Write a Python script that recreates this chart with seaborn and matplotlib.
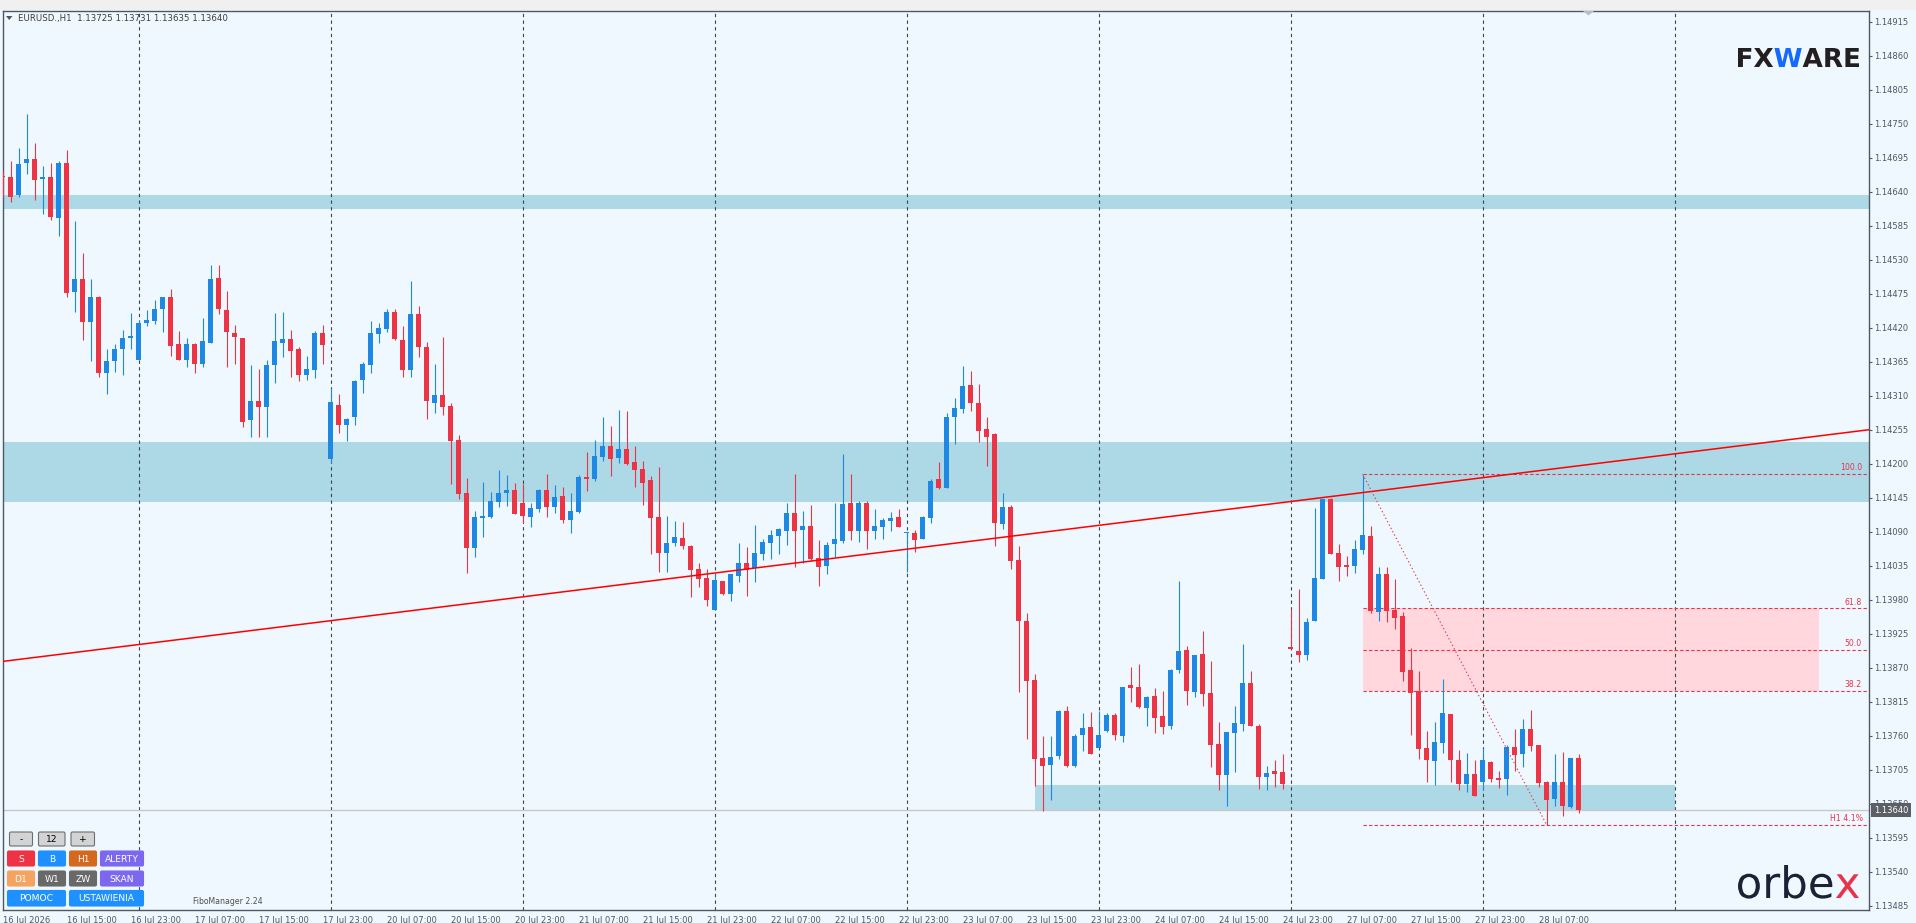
import matplotlib
matplotlib.use("Agg")
import matplotlib.pyplot as plt
import numpy as np
import pandas as pd
import seaborn as sns
from matplotlib.patches import Rectangle, FancyBboxPatch, PathPatch, Polygon
from matplotlib.transforms import Affine2D, blended_transform_factory
from matplotlib.textpath import TextPath, text_to_path
from matplotlib.font_manager import FontProperties

# EURUSD H1 candles, 16 Jul 07:00 .. 28 Jul 12:00 (one entry per bar)
opens = [
    1.14666, 1.14664, 1.14634, 1.14686, 1.14692, 1.14660, 1.14664, 1.14597, 1.14687, 1.14477,
    1.14498, 1.14429, 1.14470, 1.14347, 1.14366, 1.14385, 1.14403, 1.14368, 1.14427, 1.14430,
    1.14450, 1.14469, 1.14393, 1.14368, 1.14394, 1.14362, 1.14396, 1.14501, 1.14449, 1.14412,
    1.14404, 1.14270, 1.14302, 1.14291, 1.14359, 1.14396, 1.14401, 1.14385, 1.14343, 1.14352,
    1.14411, 1.14207, 1.14295, 1.14263, 1.14275, 1.14335, 1.14359, 1.14409, 1.14418, 1.14446,
    1.14400, 1.14352, 1.14442, 1.14389, 1.14299, 1.14311, 1.14294, 1.14239, 1.14153, 1.14064,
    1.14112, 1.14114, 1.14138, 1.14153, 1.14158, 1.14137, 1.14114, 1.14127, 1.14158, 1.14130,
    1.14148, 1.14109, 1.14122, 1.14179, 1.14176, 1.14211, 1.14229, 1.14210, 1.14224, 1.14203,
    1.14192, 1.14174, 1.14114, 1.14056, 1.14072, 1.14080, 1.14067, 1.14030, 1.14016, 1.13964,
    1.14011, 1.13990, 1.14019, 1.14040, 1.14032, 1.14054, 1.14072, 1.14083, 1.14091, 1.14121,
    1.14093, 1.14100, 1.14048, 1.14035, 1.14070, 1.14075, 1.14137, 1.14091, 1.14137, 1.14091,
    1.14098, 1.14108, 1.14114, 1.14088, 1.14088, 1.14078, 1.14112, 1.14176, 1.14161, 1.14276,
    1.14289, 1.14328, 1.14298, 1.14256, 1.14248, 1.14103, 1.14130, 1.14045, 1.13946, 1.13850,
    1.13724, 1.13713, 1.13728, 1.13800, 1.13711, 1.13762, 1.13775, 1.13741, 1.13768, 1.13794,
    1.13760, 1.13842, 1.13839, 1.13805, 1.13825, 1.13792, 1.13776, 1.13867, 1.13899, 1.13831,
    1.13893, 1.13830, 1.13747, 1.13697, 1.13765, 1.13779, 1.13846, 1.13776, 1.13694, 1.13703,
    1.13702, 1.13904, 1.13897, 1.13891, 1.13946, 1.14014, 1.14143, 1.14056, 1.14036, 1.14035,
    1.14061, 1.14083, 1.13960, 1.14022, 1.13964, 1.13954, 1.13867, 1.13833, 1.13741, 1.13720,
    1.13749, 1.13796, 1.13721, 1.13682, 1.13698, 1.13686, 1.13718, 1.13692, 1.13690, 1.13742,
    1.13731, 1.13771, 1.13745, 1.13686, 1.13658, 1.13686, 1.13645, 1.13725,
]
highs = [
    1.14674, 1.14690, 1.14711, 1.14765, 1.14719, 1.14682, 1.14687, 1.14690, 1.14708, 1.14593,
    1.14540, 1.14498, 1.14472, 1.14385, 1.14393, 1.14417, 1.14443, 1.14432, 1.14449, 1.14464,
    1.14470, 1.14482, 1.14415, 1.14404, 1.14396, 1.14436, 1.14522, 1.14522, 1.14480, 1.14425,
    1.14404, 1.14360, 1.14353, 1.14368, 1.14443, 1.14446, 1.14417, 1.14389, 1.14375, 1.14415,
    1.14425, 1.14322, 1.14313, 1.14274, 1.14336, 1.14365, 1.14430, 1.14427, 1.14451, 1.14451,
    1.14423, 1.14496, 1.14455, 1.14397, 1.14361, 1.14405, 1.14299, 1.14247, 1.14177, 1.14124,
    1.14171, 1.14155, 1.14190, 1.14182, 1.14169, 1.14167, 1.14137, 1.14159, 1.14184, 1.14166,
    1.14163, 1.14153, 1.14182, 1.14219, 1.14239, 1.14276, 1.14261, 1.14287, 1.14286, 1.14229,
    1.14205, 1.14180, 1.14195, 1.14116, 1.14108, 1.14106, 1.14069, 1.14040, 1.14030, 1.14022,
    1.14011, 1.14022, 1.14072, 1.14066, 1.14101, 1.14078, 1.14093, 1.14096, 1.14137, 1.14184,
    1.14124, 1.14133, 1.14077, 1.14074, 1.14137, 1.14216, 1.14184, 1.14140, 1.14140, 1.14127,
    1.14112, 1.14122, 1.14127, 1.14090, 1.14093, 1.14116, 1.14176, 1.14203, 1.14282, 1.14306,
    1.14358, 1.14350, 1.14329, 1.14276, 1.14250, 1.14153, 1.14133, 1.14067, 1.13959, 1.13860,
    1.13760, 1.13760, 1.13802, 1.13808, 1.13763, 1.13797, 1.13799, 1.13800, 1.13797, 1.13797,
    1.13839, 1.13871, 1.13876, 1.13825, 1.13838, 1.13833, 1.13868, 1.14011, 1.13906, 1.13891,
    1.13930, 1.13881, 1.13783, 1.13766, 1.13808, 1.13909, 1.13865, 1.13779, 1.13711, 1.13721,
    1.13731, 1.13965, 1.13998, 1.13951, 1.14129, 1.14143, 1.14145, 1.14070, 1.14051, 1.14077,
    1.14182, 1.14100, 1.14033, 1.14033, 1.14014, 1.13960, 1.13902, 1.13865, 1.13768, 1.13783,
    1.13852, 1.13796, 1.13737, 1.13732, 1.13721, 1.13741, 1.13719, 1.13703, 1.13745, 1.13771,
    1.13787, 1.13802, 1.13745, 1.13687, 1.13731, 1.13734, 1.13724, 1.13731,
]
lows = [
    1.14631, 1.14623, 1.14632, 1.14668, 1.14626, 1.14604, 1.14594, 1.14568, 1.14469, 1.14445,
    1.14400, 1.14366, 1.14341, 1.14312, 1.14349, 1.14343, 1.14385, 1.14368, 1.14422, 1.14426,
    1.14413, 1.14374, 1.14367, 1.14357, 1.14346, 1.14356, 1.14396, 1.14442, 1.14357, 1.14362,
    1.14260, 1.14244, 1.14244, 1.14244, 1.14330, 1.14372, 1.14341, 1.14333, 1.14336, 1.14338,
    1.14362, 1.14202, 1.14249, 1.14236, 1.14263, 1.14314, 1.14346, 1.14396, 1.14413, 1.14400,
    1.14340, 1.14340, 1.14373, 1.14273, 1.14282, 1.14279, 1.14167, 1.14143, 1.14024, 1.14050,
    1.14081, 1.14112, 1.14130, 1.14132, 1.14119, 1.14104, 1.14098, 1.14122, 1.14114, 1.14121,
    1.14104, 1.14088, 1.14121, 1.14156, 1.14172, 1.14205, 1.14180, 1.14201, 1.14198, 1.14163,
    1.14134, 1.14054, 1.14025, 1.14025, 1.14067, 1.14062, 1.13985, 1.14001, 1.13970, 1.13964,
    1.13988, 1.13978, 1.14009, 1.13986, 1.14009, 1.14045, 1.14046, 1.14054, 1.14069, 1.14033,
    1.14039, 1.14043, 1.14002, 1.14022, 1.14049, 1.14072, 1.14077, 1.14074, 1.14062, 1.14078,
    1.14078, 1.14091, 1.14098, 1.14025, 1.14058, 1.14078, 1.14104, 1.14159, 1.14161, 1.14232,
    1.14282, 1.14286, 1.14235, 1.14197, 1.14067, 1.14095, 1.14030, 1.13831, 1.13755, 1.13679,
    1.13639, 1.13656, 1.13723, 1.13710, 1.13710, 1.13736, 1.13731, 1.13741, 1.13766, 1.13754,
    1.13750, 1.13815, 1.13805, 1.13776, 1.13765, 1.13763, 1.13771, 1.13862, 1.13810, 1.13823,
    1.13808, 1.13710, 1.13673, 1.13647, 1.13702, 1.13768, 1.13776, 1.13674, 1.13673, 1.13677,
    1.13674, 1.13901, 1.13880, 1.13883, 1.13946, 1.14014, 1.14054, 1.14011, 1.14019, 1.14024,
    1.14054, 1.13959, 1.13946, 1.13944, 1.13933, 1.13849, 1.13762, 1.13723, 1.13686, 1.13681,
    1.13733, 1.13686, 1.13673, 1.13669, 1.13663, 1.13673, 1.13686, 1.13676, 1.13665, 1.13703,
    1.13710, 1.13736, 1.13677, 1.13616, 1.13647, 1.13631, 1.13643, 1.13635,
]
closes = [
    1.14663, 1.14632, 1.14685, 1.14693, 1.14658, 1.14664, 1.14599, 1.14687, 1.14476, 1.14498,
    1.14429, 1.14470, 1.14347, 1.14366, 1.14386, 1.14404, 1.14406, 1.14428, 1.14433, 1.14451,
    1.14469, 1.14390, 1.14368, 1.14394, 1.14361, 1.14398, 1.14499, 1.14450, 1.14413, 1.14405,
    1.14267, 1.14302, 1.14291, 1.14360, 1.14399, 1.14401, 1.14382, 1.14343, 1.14353, 1.14411,
    1.14392, 1.14300, 1.14262, 1.14272, 1.14334, 1.14361, 1.14411, 1.14420, 1.14446, 1.14401,
    1.14351, 1.14442, 1.14388, 1.14301, 1.14311, 1.14292, 1.14236, 1.14151, 1.14064, 1.14114,
    1.14116, 1.14140, 1.14153, 1.14158, 1.14119, 1.14116, 1.14129, 1.14158, 1.14130, 1.14146,
    1.14109, 1.14124, 1.14179, 1.14176, 1.14213, 1.14229, 1.14208, 1.14224, 1.14200, 1.14190,
    1.14169, 1.14112, 1.14056, 1.14072, 1.14082, 1.14067, 1.14028, 1.14014, 1.13980, 1.14012,
    1.13990, 1.14022, 1.14040, 1.14028, 1.14056, 1.14074, 1.14085, 1.14095, 1.14121, 1.14091,
    1.14100, 1.14046, 1.14033, 1.14069, 1.14078, 1.14135, 1.14091, 1.14137, 1.14091, 1.14100,
    1.14109, 1.14112, 1.14098, 1.14090, 1.14077, 1.14114, 1.14172, 1.14161, 1.14276, 1.14290,
    1.14326, 1.14298, 1.14253, 1.14243, 1.14104, 1.14130, 1.14043, 1.13946, 1.13849, 1.13723,
    1.13711, 1.13726, 1.13800, 1.13711, 1.13760, 1.13773, 1.13731, 1.13762, 1.13794, 1.13762,
    1.13839, 1.13838, 1.13807, 1.13823, 1.13789, 1.13775, 1.13867, 1.13897, 1.13833, 1.13891,
    1.13828, 1.13745, 1.13697, 1.13766, 1.13781, 1.13846, 1.13776, 1.13694, 1.13700, 1.13699,
    1.13682, 1.13901, 1.13891, 1.13944, 1.14016, 1.14143, 1.14054, 1.14033, 1.14033, 1.14062,
    1.14085, 1.13962, 1.14022, 1.13962, 1.13951, 1.13863, 1.13830, 1.13739, 1.13721, 1.13750,
    1.13797, 1.13721, 1.13682, 1.13698, 1.13663, 1.13721, 1.13690, 1.13689, 1.13742, 1.13729,
    1.13771, 1.13744, 1.13684, 1.13656, 1.13686, 1.13647, 1.13724, 1.13640,
]

x_labels = [
    "16 Jul 2026", "16 Jul 15:00", "16 Jul 23:00", "17 Jul 07:00", "17 Jul 15:00",
    "17 Jul 23:00", "20 Jul 07:00", "20 Jul 15:00", "20 Jul 23:00", "21 Jul 07:00",
    "21 Jul 15:00", "21 Jul 23:00", "22 Jul 07:00", "22 Jul 15:00", "22 Jul 23:00",
    "23 Jul 07:00", "23 Jul 15:00", "23 Jul 23:00", "24 Jul 07:00", "24 Jul 15:00",
    "24 Jul 23:00", "27 Jul 07:00", "27 Jul 15:00", "27 Jul 23:00", "28 Jul 07:00",
]
price_ticks = [
    1.14915, 1.14860, 1.14805, 1.14750, 1.14695, 1.14640, 1.14585, 1.14530, 1.14475,
    1.14420, 1.14365, 1.14310, 1.14255, 1.14200, 1.14145, 1.14090, 1.14035, 1.13980,
    1.13925, 1.13870, 1.13815, 1.13760, 1.13705, 1.13650, 1.13595, 1.13540, 1.13485,
]
day_starts = [17, 41, 65, 89, 113, 137, 161, 185, 209]   # bar index of each 00:00

# support / resistance zones (bar from, bar to, low, high)
zone_from = [0, 0, 129.06]
zone_to = [240, 240, 209.06]
zone_low = [1.14612, 1.14138, 1.13640]
zone_high = [1.14635, 1.14235, 1.13681]

trend_bars = [-0.3, 233.3]
trend_prices = [1.13880, 1.14255]

fib_from_bar, fib_to_bar, fib_box_end = 170, 193, 227.06
fib_levels = [1.14183, 1.13966, 1.13899, 1.13833]
fib_names = ["100.0", "61.8", "50.0", "38.2"]
fib_base = 1.13616
fib_base_name = "H1 4.1%"

header = "EURUSD.,H1  1.13725 1.13731 1.13635 1.13640"
buttons = ["-", "12", "+", "S", "B", "H1", "ALERTY", "D1", "W1", "ZW", "SKAN", "POMOC", "USTAWIENIA"]

BG = "#F0F8FF"
BULL = "#1E88E5"
BEAR = "#EE3344"
ZONE = "#ADD8E6"
FIB = "#E8344A"
AXC = "#4E5862"

W, H = 1916, 923
sns.set_style("white")
plt.rcParams["font.family"] = ["DejaVu Sans"]

fig = plt.figure(figsize=(W / 100, H / 100), dpi=100, facecolor=BG)
pix = Affine2D().scale(1 / W, -1 / H).translate(0, 1) + fig.transFigure
ax = fig.add_axes([3 / W, 1 - 910 / H, 1866 / W, 899 / H])
ax.set_facecolor(BG)
ax.set_xlim(0.0625, 233.3)
ax.set_ylim(1.134785, 1.14932)

df = pd.DataFrame({"open": opens, "high": highs, "low": lows, "close": closes})
df["bar"] = np.arange(len(df))
df["color"] = np.where(df["close"] >= df["open"], BULL, BEAR)

# zones and boxes under everything
for x0, x1, lo, hi in zip(zone_from, zone_to, zone_low, zone_high):
    ax.add_patch(Rectangle((x0, lo), x1 - x0, hi - lo, fc=ZONE, ec="none", zorder=0.5))
ax.add_patch(Rectangle((fib_from_bar, fib_levels[3]), fib_box_end - fib_from_bar,
                       fib_levels[1] - fib_levels[3], fc="#FFD7DD", ec="none", zorder=0.6))

for b in day_starts:
    ax.axvline(b, color="#3A4550", lw=0.8, ls=(0, (3, 3)), zorder=1)

ax.axhline(closes[-1], color="#C8C8C8", lw=1.0, zorder=1.5)

# candles
ax.vlines(df["bar"], df["low"], df["high"], colors=df["color"], lw=0.8, zorder=3)
body_lo = np.minimum(df["open"], df["close"])
body_h = np.maximum((df["close"] - df["open"]).abs(), 0.000018)
ax.bar(df["bar"], body_h, bottom=body_lo, width=0.625, color=df["color"], lw=0, zorder=3.1)

# trend line
sns.lineplot(x=trend_bars, y=trend_prices, ax=ax, color="#FF0000", lw=1.1, zorder=4)

# fibo
xmax = ax.get_xlim()[1]
lab_x = 232.4
for lv, name in zip(fib_levels, fib_names):
    ax.hlines(lv, fib_from_bar, xmax, colors=FIB, lw=0.8, ls=(0, (3, 2)), zorder=2)
    ax.text(lab_x, lv + 0.00003, name, ha="right", va="bottom", fontsize=5.6, color=FIB, zorder=5)
ax.hlines(fib_base, fib_from_bar, xmax, colors=FIB, lw=0.8, ls=(0, (3, 2)), zorder=2)
ax.text(lab_x + 0.2, fib_base + 0.00003, fib_base_name, ha="right", va="bottom",
        fontsize=5.6, color=FIB, zorder=5)
ax.plot([fib_from_bar, fib_to_bar], [fib_levels[0], fib_base], color=FIB, lw=0.8,
        ls=(0, (1.2, 2.2)), zorder=4)

# axes
for s in ax.spines.values():
    s.set_color(AXC)
    s.set_linewidth(1.0)
ax.yaxis.tick_right()
ax.set_yticks(price_ticks)
ax.set_yticklabels([f"{p:.5f}" for p in price_ticks])
ax.set_xticks(range(0, 8 * len(x_labels), 8))
ax.set_xticklabels(x_labels, ha="left")
ax.tick_params(axis="y", direction="out", length=2.5, width=0.8, color=AXC, pad=1.5,
               labelsize=6, labelcolor=AXC)
ax.tick_params(axis="x", direction="out", length=2.5, width=0.8, color=AXC, pad=1.5,
               labelsize=6, labelcolor=AXC)
ax.set_xlabel("")
ax.set_ylabel("")
if ax.get_legend():
    ax.get_legend().remove()

# current price tag
bt = blended_transform_factory(ax.transAxes, ax.transData)
ax.text(1 + 5 / 1866, closes[-1], f"{closes[-1]:.5f}", transform=bt, ha="left", va="center",
        fontsize=6, color="white", clip_on=False, zorder=6,
        bbox=dict(boxstyle="square,pad=0.3", fc="#5C6066", ec="none"))

# toolbar strip and shift marker
fig.add_artist(Rectangle((0, 0), W, 9.5, transform=pix, fc="#F0F0F0", ec="none"))
fig.add_artist(Polygon([(1583, 11), (1594, 11), (1588.5, 15.5)], closed=True,
                       transform=pix, fc="#BDBDBD", ec="none"))

# header
fig.add_artist(Polygon([(6, 16), (12.5, 16), (9.2, 20)], closed=True, transform=pix,
                       fc="#555555", ec="none"))
fig.text(18, 18.5, header, transform=pix, ha="left", va="center", fontsize=6.2, color="#3C3C3C")


def logo(parts, x0, x1, ytop, ybase, prop):
    prop = prop.copy()
    prop.set_size(100)
    items, xoff = [], 0.0
    for s, c in parts:
        items.append((TextPath((xoff, 0), s, prop=prop), c))
        w, _, _ = text_to_path.get_text_width_height_descent(s, prop, ismath=False)
        xoff += w
    exts = [tp.get_extents() for tp, _ in items]
    ex0 = min(e.x0 for e in exts)
    ex1 = max(e.x1 for e in exts)
    ey1 = max(e.y1 for e in exts)
    sx = (x1 - x0) / (ex1 - ex0)
    sy = (ybase - ytop) / ey1
    tr = Affine2D().translate(-ex0, 0).scale(sx, -sy).translate(x0, ybase) + pix
    for tp, c in items:
        fig.add_artist(PathPatch(tp, fc=c, ec="none", transform=tr))


logo([("FX", "#231F20"), ("W", "#1469FF"), ("ARE", "#231F20")], 1738, 1859, 48, 67,
     FontProperties(family="DejaVu Sans", weight="bold"))
logo([("orbe", "#1B2235"), ("x", "#E8344A")], 1738, 1859, 865, 898,
     FontProperties(family="DejaVu Sans", weight="normal"))

# panel buttons
btn_colors = ["#D3D3D3", "#D3D3D3", "#D3D3D3", "#EE3344", "#1E90FF", "#D2691E", "#7B68EE",
              "#F4A460", "#696969", "#696969", "#7B68EE", "#1E90FF", "#1E90FF"]
btn_boxes = [(9.5, 832, 23, 14), (38.5, 832, 26.5, 14), (71, 832, 23.5, 14),
             (7.5, 851, 27, 15), (38.5, 851, 27, 15), (69.5, 851, 27, 15), (100.5, 851, 43, 15),
             (7.5, 871, 27, 15), (38.5, 871, 27, 15), (69.5, 871, 27, 15), (100.5, 871, 43, 15),
             (7.5, 890.5, 58, 15.5), (69.5, 890.5, 74, 15.5)]
for i, (lab, col, (bx, by, bw, bh)) in enumerate(zip(buttons, btn_colors, btn_boxes)):
    grey = i < 3
    fig.add_artist(FancyBboxPatch((bx, by), bw, bh, boxstyle="round,pad=0,rounding_size=1.5",
                                  transform=pix, fc=col, ec="#6E6E6E" if grey else col,
                                  lw=0.8))
    fig.text(bx + bw / 2, by + bh / 2 + 0.5, lab, transform=pix, ha="center", va="center",
             fontsize=6.6, color="black" if grey else "white")

fig.text(193, 902, "FiboManager 2.24", transform=pix, ha="left", va="center", fontsize=5.6,
         color="#505050")

plt.savefig("out.png", dpi=100, facecolor=BG)
plt.close(fig)
